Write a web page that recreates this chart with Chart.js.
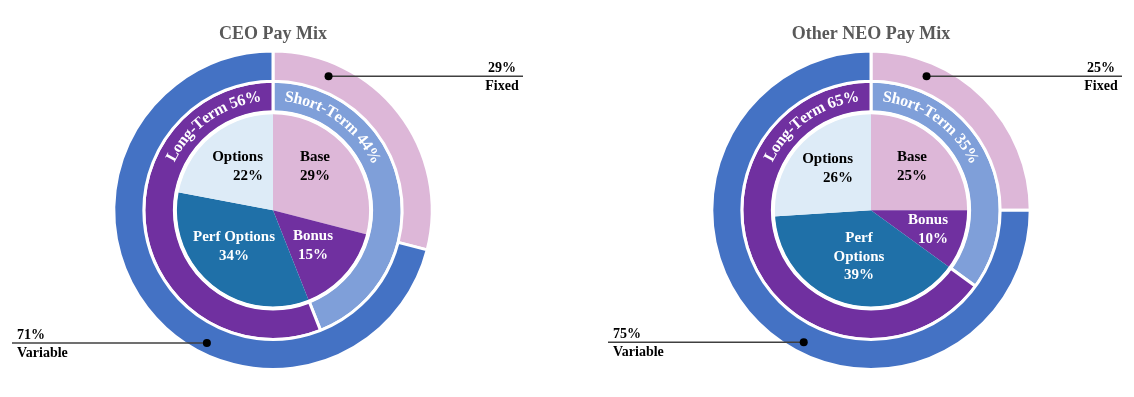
<!DOCTYPE html>
<html>
<head>
<meta charset="utf-8">
<script src="https://cdn.jsdelivr.net/npm/chart.js@4.4.1/dist/chart.umd.min.js"></script>
<style>
  html, body { margin: 0; padding: 0; background: #fff; overflow: hidden; }
  #wrap { position: relative; width: 1134px; height: 397px; }
  canvas { position: absolute; top: 0; }
</style>
</head>
<body>
<div id="wrap">
  <canvas id="ceoChart" width="567" height="397" style="left:0"></canvas>
  <canvas id="neoChart" width="567" height="397" style="left:567px"></canvas>
</div>
<script>
// chart data
const chartTitles = ['CEO Pay Mix', 'Other NEO Pay Mix'];
const mixLabels = ['Fixed', 'Variable'];
const ceoMix = [29, 71];
const neoMix = [25, 75];
const termLabels = ['Short-Term', 'Long-Term'];
const ceoTerm = [44, 56];
const neoTerm = [35, 65];
const elementLabels = ['Base', 'Bonus', 'Perf Options', 'Options'];
const ceoElements = [29, 15, 34, 22];
const neoElements = [25, 10, 39, 26];

const SERIF = "'Liberation Serif', 'Times New Roman', serif";
const mixColors = ['#DDB7D8', '#4472C4'];
const termColors = ['#7F9FD9', '#7030A0'];
const elementColors = ['#DDB7D8', '#7030A0', '#1F70A8', '#DDEBF7'];
const elementText = ['#000', '#fff', '#fff', '#000'];

function deg(d) { return -Math.PI / 2 + d * Math.PI / 180; }

// draws text along a circle, one glyph at a time
function arcText(ctx, text, cx, cy, r, a0, fromEnd) {
    const chars = [...text];
    const widths = chars.map(ch => ctx.measureText(ch).width);
    const total = widths.reduce((s, w) => s + w, 0) / r;
    let a = fromEnd ? a0 - total : a0;
    chars.forEach((ch, i) => {
        const da = widths[i] / r;
        const m = a + da / 2;
        ctx.save();
        ctx.translate(cx + r * Math.cos(m), cy + r * Math.sin(m));
        ctx.rotate(m + Math.PI / 2);
        ctx.fillText(ch, 0, 0);
        ctx.restore();
        a += da;
    });
}

const decor = {
    id: 'decor',
    afterDatasetsDraw(chart, args, opts) {
        const ctx = chart.ctx;
        const outer = chart.getDatasetMeta(0).data;
        const middle = chart.getDatasetMeta(1).data;
        const inner = chart.getDatasetMeta(2).data;
        const cx = inner[0].x, cy = inner[0].y;
        const ds = chart.data.datasets;

        ctx.save();
        // white gap between pie and middle ring
        ctx.strokeStyle = '#fff';
        ctx.lineWidth = 4;
        ctx.beginPath();
        ctx.arc(cx, cy, inner[0].outerRadius, 0, Math.PI * 2);
        ctx.stroke();

        // curved ring labels
        ctx.fillStyle = '#fff';
        ctx.font = 'bold 16px ' + SERIF;
        ctx.textAlign = 'center';
        ctx.textBaseline = 'middle';
        const rMid = (middle[0].innerRadius + middle[0].outerRadius) / 2;
        const pad = 6 * Math.PI / 180;
        arcText(ctx, termLabels[0] + ' ' + ds[1].data[0] + '%', cx, cy, rMid, middle[0].startAngle + pad, false);
        arcText(ctx, termLabels[1] + ' ' + ds[1].data[1] + '%', cx, cy, rMid, middle[1].endAngle - pad, true);

        // pie labels
        ctx.font = 'bold 15px ' + SERIF;
        opts.slices.forEach((s, i) => {
            const name = elementLabels[i];
            const lines = (s.wrap ? name.split(' ') : [name]).concat(ds[2].data[i] + '%');
            ctx.fillStyle = elementText[i];
            ctx.textAlign = s.align;
            lines.forEach((t, k) => ctx.fillText(t, cx + s.x, cy + s.y + k * 18.5));
        });

        // callouts on the outer ring
        const rOut = (outer[0].innerRadius + outer[0].outerRadius) / 2;
        ctx.font = 'bold 14px ' + SERIF;
        ctx.fillStyle = '#000';
        ctx.strokeStyle = '#404040';
        ctx.lineWidth = 1.5;
        opts.callouts.forEach((c, i) => {
            const a = deg(c.angle);
            const r = rOut + c.dr;
            const px = cx + r * Math.cos(a), py = cy + r * Math.sin(a);
            const ex = cx + c.end;
            ctx.beginPath();
            ctx.moveTo(px, py);
            ctx.lineTo(ex, py);
            ctx.stroke();
            ctx.beginPath();
            ctx.arc(px, py, 4, 0, Math.PI * 2);
            ctx.fill();
            const tx = c.end > 0 ? ex - 21 : ex + 5;
            ctx.textAlign = c.end > 0 ? 'center' : 'left';
            ctx.fillText(ds[0].data[i] + '%', tx, py - 8);
            ctx.fillText(mixLabels[i], tx, py + 10);
        });
        ctx.restore();
    }
};

function makeChart(id, title, mix, term, elements, padL, padR, layout) {
    return new Chart(document.getElementById(id), {
        type: 'doughnut',
        data: {
            labels: elementLabels,
            datasets: [
                { data: mix, backgroundColor: mixColors, borderColor: '#fff', borderWidth: 3, weight: 30 },
                { data: term, backgroundColor: termColors, borderColor: '#fff', borderWidth: 3, weight: 31 },
                { data: elements, backgroundColor: elementColors, borderWidth: 0, weight: 98 }
            ]
        },
        options: {
            responsive: false,
            animation: false,
            events: [],
            cutout: 0,
            layout: { padding: { left: padL, right: padR, top: 0, bottom: 26 } },
            plugins: {
                legend: { display: false },
                tooltip: { enabled: false },
                title: {
                    display: true,
                    text: title,
                    color: '#595959',
                    font: { family: SERIF, size: 18, weight: 'bold' },
                    padding: { top: 24, bottom: 4 }
                },
                decor: layout
            }
        },
        plugins: [decor]
    });
}

makeChart('ceoChart', chartTitles[0], ceoMix, ceoTerm, ceoElements, 0, 21, {
    slices: [
        { x: 42, y: -53, align: 'center' },
        { x: 40, y: 26, align: 'center' },
        { x: -39, y: 27, align: 'center' },
        { x: -10, y: -53, align: 'right' }
    ],
    callouts: [
        { angle: 22.5, dr: 1, end: 250 },
        { angle: 206.5, dr: 4, end: -261 }
    ]
});

makeChart('neoChart', chartTitles[1], neoMix, neoTerm, neoElements, 41, 0, {
    slices: [
        { x: 41, y: -53, align: 'center' },
        { x: 77, y: 10, align: 'right' },
        { x: -12, y: 28, align: 'center', wrap: true },
        { x: -18, y: -51, align: 'right' }
    ],
    callouts: [
        { angle: 22.5, dr: 1, end: 251 },
        { angle: 207, dr: 4, end: -263 }
    ]
});
</script>
</body>
</html>
